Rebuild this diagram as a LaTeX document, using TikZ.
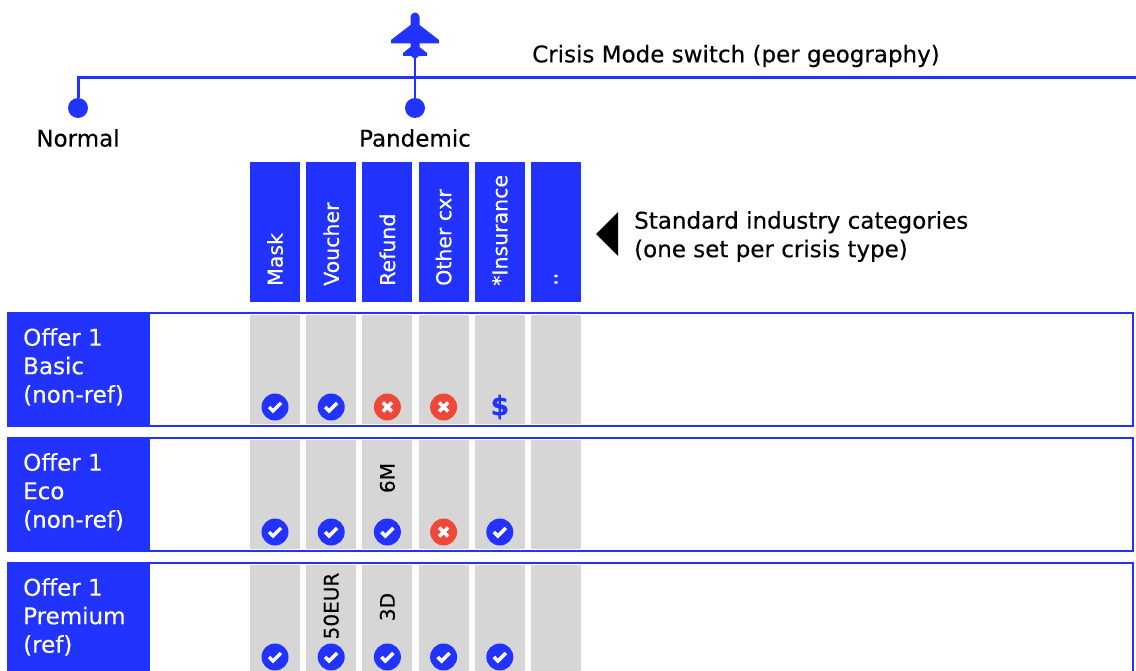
\documentclass[tikz,border=0pt]{standalone}
\usepackage{fontspec}
\setmainfont{DejaVu Sans}[FakeBold=0.35]
\definecolor{crisisblue}{RGB}{34,51,255}
\definecolor{crisisred}{RGB}{240,72,56}
\definecolor{cellgray}{RGB}{214,214,214}
% round marks in the offer rows
\newcommand{\markyes}[2]{%
  \begin{scope}[shift={(#1,#2)}]
    \fill[crisisblue] (0,0) circle (13.5);
    \draw[white, line width=3.5] (-6,0) -- (-2,4) -- (6,-4);
  \end{scope}}
\newcommand{\markno}[2]{%
  \begin{scope}[shift={(#1,#2)}]
    \fill[crisisred] (0,0) circle (13.5);
    \draw[white, line width=3.5] (-4.5,-4.5) -- (4.5,4.5) (-4.5,4.5) -- (4.5,-4.5);
  \end{scope}}
\begin{document}
\begin{tikzpicture}[x=1pt, y=-1pt,
    bigtext/.style={font=\fontsize{23}{28.5}\selectfont, inner sep=0pt},
    coltext/.style={font=\fontsize{20.5}{24}\selectfont, inner sep=0pt, rotate=90, anchor=west},
    switchdot/.style={circle, fill=crisisblue, minimum size=20pt, inner sep=0pt}]
  \clip (0,0) rectangle (1136,671);
  % crisis mode switch
  \node[switchdot] (normal) at (78,108) {};
  \node[switchdot] (pandemic) at (415,108) {};
  \coordinate (switchend) at (1136,78);
  \coordinate (planetail) at (415,58);
  \draw[crisisblue, line width=3] (normal) |- (switchend);
  \draw[crisisblue, line width=2.5] (planetail) -- (pandemic);
  \fill[crisisblue] (410.5,17) arc[start angle=180, end angle=360, radius=4.5] -- (419.5,25) -- (439,40)
    -- (439,43.5) -- (419.5,43.5) -- (419.5,47) -- (427,53) -- (427,56) -- (419,56) -- (415,59)
    -- (411,56) -- (403,56) -- (403,53) -- (410.5,47) -- (410.5,43.5) -- (391,43.5) -- (391,40)
    -- (410.5,25) -- cycle;
  \node[bigtext, anchor=west] (switchlabel) at (532,56) {Crisis Mode switch (per geography)};
  \node[bigtext] (normallabel) at (78,138) {Normal};
  \node[bigtext] (pandemiclabel) at (415,138) {Pandemic};
  % categories
  \foreach \name [count=\i from 0] in {Mask, Voucher, Refund, Other cxr, *Insurance, ..} {
    \fill[crisisblue] (250+56.2*\i,162) rectangle (300+56.2*\i,302);
    \node[coltext, text=white] (head\i) at (275+56.2*\i,286) {\name};
  }
  \fill (596,234) -- (618,212) -- (618,256) -- cycle;
  \node[bigtext, align=left, anchor=north west] (catnote) at (634,211)
    {Standard industry categories\\(one set per crisis type)};
  % offer rows
  \foreach \top/\label [count=\r] in {313/{Offer 1\\Basic\\(non-ref)}, 438/{Offer 1\\Eco\\(non-ref)}, 563/{Offer 1\\Premium\\(ref)}} {
    \foreach \i in {0,...,5}
      \fill[cellgray] (250+56.2*\i,\top+2) rectangle (300+56.2*\i,\top+111);
    \fill[crisisblue] (8,\top) rectangle (150,\top+113);
    \draw[crisisblue, line width=2.5] (8,\top) rectangle (1133,\top+113);
    \node[bigtext, text=white, align=left, anchor=north west] (offer\r) at (23,\top+15) {\label};
  }
  \markyes{275}{407} \markyes{331.2}{407} \markno{387.4}{407} \markno{443.6}{407}
  \node[font=\bfseries\fontsize{27}{27}\selectfont, text=crisisblue, inner sep=0pt] (price) at (499.8,407) {\$};
  \markyes{275}{532} \markyes{331.2}{532} \markyes{387.4}{532} \markno{443.6}{532} \markyes{499.8}{532}
  \node[coltext, anchor=center, font=\fontsize{20}{24}\selectfont] (sixm) at (387.4,478) {6M};
  \foreach \i in {0,...,4}
    \markyes{275+56.2*\i}{657};
  \node[coltext, anchor=center, font=\fontsize{20}{24}\selectfont] (fifty) at (331.2,606) {50EUR};
  \node[coltext, anchor=center, font=\fontsize{20}{24}\selectfont] (threed) at (387.4,607) {3D};
\end{tikzpicture}
\end{document}
